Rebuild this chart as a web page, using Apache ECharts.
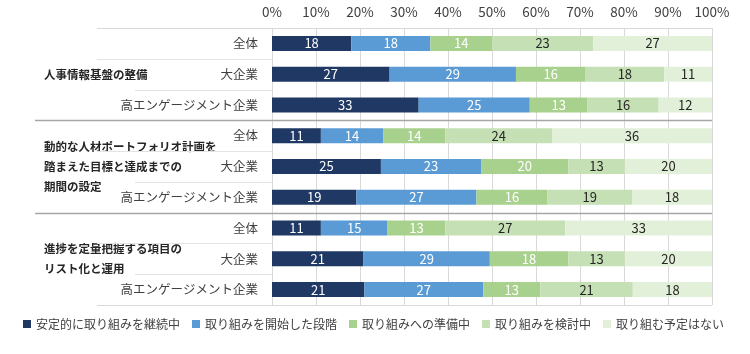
<!DOCTYPE html>
<html>
<head>
<meta charset="utf-8">
<script src="https://cdn.jsdelivr.net/npm/echarts@6/dist/echarts.min.js"></script>
<style>
  html, body { margin: 0; padding: 0; background: #fff; }
  #chart { width: 750px; height: 354px; }
</style>
</head>
<body>
<div id="chart"></div>
<script>
// rows top to bottom
const rowLabels = ['全体', '大企業', '高エンゲージメント企業', '全体', '大企業', '高エンゲージメント企業', '全体', '大企業', '高エンゲージメント企業'];
const groupLabels = ['人事情報基盤の整備', '動的な人材ポートフォリオ計画を\n踏まえた目標と達成までの\n期間の設定', '進捗を定量把握する項目の\nリスト化と運用'];
const seriesNames = ['安定的に取り組みを継続中', '取り組みを開始した段階', '取り組みへの準備中', '取り組みを検討中', '取り組む予定はない'];
const tickValues = [0, 10, 20, 30, 40, 50, 60, 70, 80, 90, 100];

const continuing = [18, 27, 33, 11, 25, 19, 11, 21, 21];
const started    = [18, 29, 25, 14, 23, 27, 15, 29, 27];
const preparing  = [14, 16, 13, 14, 20, 16, 13, 18, 13];
const considering= [23, 18, 16, 24, 13, 19, 27, 13, 21];
const noPlan     = [27, 11, 12, 36, 20, 18, 33, 20, 18];

const seriesValues = [continuing, started, preparing, considering, noPlan];
const colors = ['#1f3864', '#5b9bd5', '#a9d18e', '#c5e0b4', '#e2f0d9'];
const labelColors = ['#ffffff', '#ffffff', '#ffffff', '#262626', '#262626'];

const FONT = '"Noto Sans CJK JP", "Noto Sans", sans-serif';
const GRID = { left: 272, right: 38, top: 28, bottom: 49 };

// labels show the rounded figures, bars are scaled so each row fills 100%
const rowSums = rowLabels.map((_, i) => seriesValues.reduce((s, arr) => s + arr[i], 0));

const chart = echarts.init(document.getElementById('chart'));

const series = seriesValues.map((vals, si) => ({
  name: seriesNames[si],
  type: 'bar',
  stack: 'total',
  barWidth: 15,
  yAxisIndex: 0,
  itemStyle: { color: colors[si] },
  label: {
    show: true,
    position: 'inside',
    color: labelColors[si],
    fontFamily: FONT,
    fontSize: 13,
    formatter: p => vals[p.dataIndex]
  },
  data: vals.map((v, i) => v / rowSums[i] * 100)
}));

// separator lines in the label area
const band = (354 - GRID.top - GRID.bottom) / rowLabels.length;
const plotRight = 750 - GRID.right;
const lines = [];
function hline(x1, x2, k, color, w) {
  const y = Math.round(GRID.top + k * band) + 0.5;
  lines.push({ type: 'line', shape: { x1, y1: y, x2, y2: y }, style: { stroke: color, lineWidth: w }, z: 1 });
}
hline(97, plotRight, 0, '#d9d9d9', 1);
[1, 4, 7].forEach(k => hline(97, GRID.left, k, '#e3e3e3', 1));
[2, 5, 8].forEach(k => hline(135, GRID.left, k, '#e3e3e3', 1));
[3, 6].forEach(k => hline(35, plotRight, k, '#a6a6a6', 1.5));
hline(97, plotRight, 9, '#d9d9d9', 1);

chart.setOption({
  animation: false,
  backgroundColor: '#ffffff',
  textStyle: { fontFamily: FONT },
  grid: GRID,
  legend: {
    left: 23,
    top: 318,
    width: 730,
    padding: 0,
    itemWidth: 8,
    itemHeight: 8,
    itemGap: 12,
    icon: 'rect',
    textStyle: { fontFamily: FONT, fontSize: 12, color: '#404040' },
    data: seriesNames
  },
  xAxis: {
    type: 'value',
    position: 'top',
    min: 0,
    max: 100,
    interval: 10,
    axisLine: { show: false },
    axisTick: { show: false },
    axisLabel: {
      color: '#404040',
      fontSize: 13.5,
      margin: 9,
      formatter: v => tickValues.includes(v) ? v + '%' : ''
    },
    splitLine: { lineStyle: { color: '#d9d9d9', width: 1 } }
  },
  yAxis: [
    {
      type: 'category',
      inverse: true,
      data: rowLabels,
      axisLine: { show: false },
      axisTick: { show: false },
      axisLabel: { color: '#404040', fontSize: 12.5, margin: 14 }
    },
    {
      type: 'category',
      inverse: true,
      position: 'left',
      offset: 230,
      data: groupLabels,
      axisLine: { show: false },
      axisTick: { show: false },
      splitLine: { show: false },
      axisLabel: {
        color: '#262626',
        fontSize: 11.5,
        fontWeight: 'bold',
        align: 'left',
        margin: -2,
        lineHeight: 20
      }
    }
  ],
  graphic: lines,
  series
});
</script>
</body>
</html>
